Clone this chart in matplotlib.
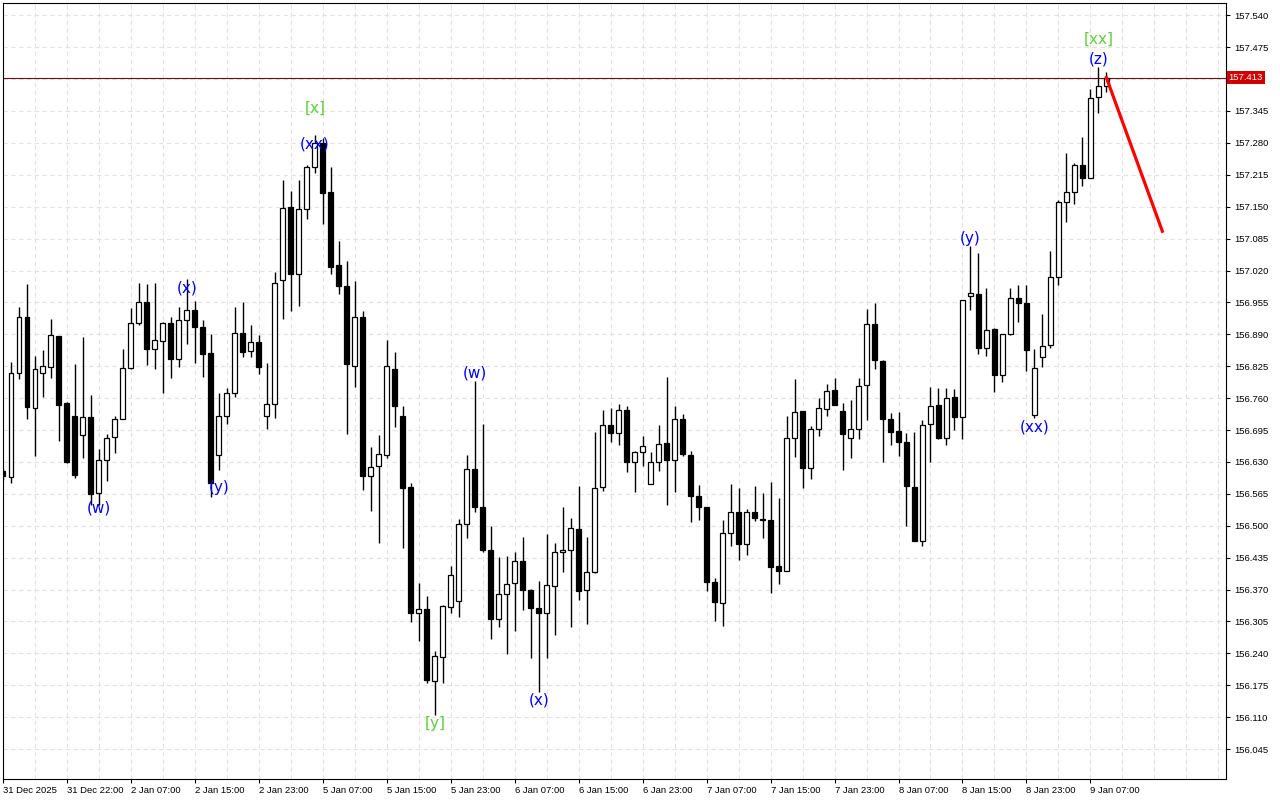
import matplotlib.pyplot as plt
import numpy as np

# hourly candles, 31 Dec 14:00 .. 9 Jan 10:00
opens = [156.611, 156.599, 156.811, 156.925, 156.740, 156.811, 156.823, 156.886, 156.750, 156.723,
         156.685, 156.721, 156.566, 156.634, 156.681, 156.717, 156.821, 156.913, 156.956, 156.860,
         156.876, 156.913, 156.840, 156.919, 156.939, 156.905, 156.852, 156.644, 156.723, 156.770,
         156.892, 156.856, 156.874, 156.723, 156.748, 157.000, 157.149, 157.013, 157.145, 157.231,
         157.280, 157.180, 157.031, 156.988, 156.825, 156.925, 156.601, 156.621, 156.644, 156.819,
         156.723, 156.579, 156.322, 156.330, 156.183, 156.232, 156.334, 156.346, 156.503, 156.615,
         156.538, 156.450, 156.310, 156.361, 156.383, 156.428, 156.369, 156.332, 156.322, 156.377,
         156.446, 156.450, 156.493, 156.369, 156.405, 156.579, 156.705, 156.689, 156.736, 156.630,
         156.650, 156.585, 156.630, 156.668, 156.634, 156.717, 156.644, 156.560, 156.538, 156.385,
         156.342, 156.485, 156.528, 156.463, 156.528, 156.513, 156.511, 156.418, 156.408, 156.679,
         156.734, 156.617, 156.697, 156.738, 156.776, 156.734, 156.679, 156.697, 156.787, 156.911,
         156.835, 156.717, 156.693, 156.670, 156.579, 156.469, 156.707, 156.746, 156.679, 156.762,
         156.721, 156.968, 156.972, 156.862, 156.901, 156.807, 156.890, 156.964, 156.954, 156.725,
         156.844, 156.868, 157.007, 157.159, 157.180, 157.235, 157.208, 157.373, 157.396]
highs = [156.617, 156.833, 156.945, 156.992, 156.846, 156.858, 156.921, 156.886, 156.752, 156.829,
         156.884, 156.766, 156.656, 156.687, 156.723, 156.860, 156.943, 156.994, 156.992, 156.994,
         156.915, 156.925, 156.945, 157.003, 156.958, 156.919, 156.890, 156.770, 156.780, 156.945,
         156.956, 156.909, 156.888, 156.831, 157.017, 157.204, 157.182, 157.204, 157.235, 157.296,
         157.290, 157.231, 157.080, 157.039, 156.998, 156.937, 156.660, 156.685, 156.878, 156.854,
         156.744, 156.587, 156.383, 156.357, 156.245, 156.338, 156.418, 156.513, 156.644, 156.795,
         156.707, 156.499, 156.436, 156.438, 156.446, 156.477, 156.371, 156.387, 156.483, 156.465,
         156.538, 156.516, 156.581, 156.477, 156.691, 156.736, 156.740, 156.748, 156.744, 156.652,
         156.683, 156.650, 156.705, 156.803, 156.744, 156.727, 156.652, 156.583, 156.538, 156.393,
         156.511, 156.585, 156.577, 156.534, 156.581, 156.566, 156.589, 156.556, 156.723, 156.799,
         156.734, 156.703, 156.760, 156.789, 156.801, 156.750, 156.756, 156.801, 156.941, 156.954,
         156.837, 156.729, 156.732, 156.689, 156.691, 156.715, 156.782, 156.780, 156.780, 156.778,
         156.960, 157.070, 157.055, 156.984, 156.903, 156.890, 156.984, 156.990, 156.990, 156.860,
         156.931, 157.060, 157.163, 157.259, 157.239, 157.292, 157.390, 157.434, 157.424]
lows = [156.593, 156.587, 156.799, 156.717, 156.642, 156.762, 156.801, 156.672, 156.628, 156.597,
        156.638, 156.542, 156.542, 156.591, 156.648, 156.717, 156.819, 156.909, 156.827, 156.819,
        156.770, 156.801, 156.823, 156.870, 156.831, 156.803, 156.558, 156.613, 156.707, 156.762,
        156.844, 156.844, 156.809, 156.697, 156.719, 156.921, 156.937, 156.947, 157.125, 157.219,
        157.115, 157.013, 156.972, 156.687, 156.782, 156.573, 156.530, 156.465, 156.638, 156.701,
        156.454, 156.304, 156.265, 156.179, 156.114, 156.179, 156.322, 156.314, 156.475, 156.528,
        156.446, 156.269, 156.293, 156.238, 156.285, 156.328, 156.230, 156.161, 156.230, 156.277,
        156.405, 156.293, 156.348, 156.300, 156.403, 156.571, 156.670, 156.664, 156.609, 156.568,
        156.621, 156.585, 156.611, 156.542, 156.568, 156.642, 156.507, 156.511, 156.367, 156.306,
        156.295, 156.458, 156.430, 156.440, 156.509, 156.475, 156.363, 156.381, 156.408, 156.640,
        156.577, 156.595, 156.683, 156.723, 156.746, 156.613, 156.638, 156.676, 156.715, 156.819,
        156.630, 156.664, 156.642, 156.499, 156.469, 156.458, 156.630, 156.676, 156.664, 156.695,
        156.676, 156.939, 156.850, 156.846, 156.772, 156.793, 156.888, 156.915, 156.815, 156.719,
        156.823, 156.862, 156.990, 157.119, 157.155, 157.192, 157.208, 157.341, 157.384]
closes = [156.601, 156.811, 156.925, 156.742, 156.819, 156.825, 156.888, 156.746, 156.630, 156.603,
          156.721, 156.564, 156.634, 156.679, 156.717, 156.821, 156.913, 156.956, 156.860, 156.878,
          156.913, 156.840, 156.919, 156.939, 156.905, 156.850, 156.587, 156.723, 156.770, 156.892,
          156.854, 156.874, 156.823, 156.748, 156.994, 157.147, 157.013, 157.145, 157.231, 157.280,
          157.178, 157.027, 156.988, 156.829, 156.925, 156.601, 156.619, 156.646, 156.825, 156.744,
          156.577, 156.322, 156.330, 156.185, 156.234, 156.336, 156.399, 156.503, 156.615, 156.538,
          156.450, 156.310, 156.361, 156.381, 156.428, 156.369, 156.332, 156.322, 156.379, 156.446,
          156.450, 156.495, 156.367, 156.405, 156.577, 156.705, 156.689, 156.736, 156.630, 156.650,
          156.662, 156.630, 156.666, 156.634, 156.717, 156.646, 156.560, 156.538, 156.385, 156.344,
          156.485, 156.528, 156.463, 156.528, 156.516, 156.511, 156.416, 156.408, 156.679, 156.732,
          156.617, 156.697, 156.740, 156.774, 156.746, 156.687, 156.697, 156.784, 156.911, 156.837,
          156.717, 156.691, 156.670, 156.581, 156.469, 156.705, 156.744, 156.679, 156.760, 156.721,
          156.960, 156.974, 156.862, 156.899, 156.807, 156.890, 156.964, 156.954, 156.858, 156.821,
          156.866, 157.007, 157.159, 157.180, 157.235, 157.208, 157.371, 157.396, 157.413]

time_labels = ['31 Dec 2025', '31 Dec 22:00', '2 Jan 07:00', '2 Jan 15:00', '2 Jan 23:00',
               '5 Jan 07:00', '5 Jan 15:00', '5 Jan 23:00', '6 Jan 07:00', '6 Jan 15:00',
               '6 Jan 23:00', '7 Jan 07:00', '7 Jan 15:00', '7 Jan 23:00', '8 Jan 07:00',
               '8 Jan 15:00', '8 Jan 23:00', '9 Jan 07:00']
price_ticks = np.round(156.045 + 0.065 * np.arange(24), 3)

# (text, candle index, price, colour)
wave_labels = [('(w)', 12, 156.536, 'blue'), ('(x)', 23, 156.984, 'blue'),
               ('(y)', 27, 156.577, 'blue'), ('(xx)', 39, 157.278, 'blue'),
               ('[x]', 39, 157.351, '#5ecf3a'), ('[y]', 54, 156.098, '#5ecf3a'),
               ('(w)', 59, 156.811, 'blue'), ('(x)', 67, 156.145, 'blue'),
               ('(y)', 121, 157.086, 'blue'), ('(xx)', 129, 156.701, 'blue'),
               ('(z)', 137, 157.451, 'blue'), ('[xx]', 137, 157.492, '#5ecf3a')]

current_price = 157.413
forecast_x = [138, 145]
forecast_y = [157.413, 157.100]

o = np.array(opens)
h = np.array(highs)
l = np.array(lows)
c = np.array(closes)
idx = np.arange(len(o))
up = c >= o

fig = plt.figure(figsize=(12.8, 8), dpi=100)
ax = fig.add_axes([3 / 1280, 21 / 800, 1223 / 1280, 776 / 800])

ax.vlines(idx, l, h, color='black', linewidth=1, zorder=2)
ax.bar(idx, np.maximum(np.abs(c - o), 0.0008), bottom=np.minimum(o, c), width=0.62,
       color=np.where(up, 'white', 'black'), edgecolor='black', linewidth=0.9, zorder=3)

ax.axhline(current_price, color='#6b1010', linewidth=0.8, zorder=1)
ax.plot(forecast_x, forecast_y, color='red', linewidth=2.3, zorder=4)

for txt, i, p, col in wave_labels:
    ax.text(i, p, txt, color=col, fontsize=11, ha='center', va='center', zorder=5)

ax.set_xlim(0.09, 152.96)
ax.set_ylim(155.984, 157.565)

ax.set_xticks(np.arange(0, 8 * len(time_labels), 8))
ax.set_xticklabels(time_labels, ha='left', fontsize=6.8, family='Liberation Sans')
ax.set_xticks(np.arange(0, 153, 4), minor=True)
ax.tick_params(axis='x', which='major', length=3, pad=2)
ax.tick_params(axis='x', which='minor', length=0)

# the price tag hides the tick label next to it
ax.yaxis.tick_right()
ax.set_yticks(price_ticks)
ax.set_yticklabels(['' if abs(v - current_price) < 0.02 else '%.3f' % v for v in price_ticks],
                   fontsize=6.8, family='Liberation Sans')
ax.tick_params(axis='y', length=3, pad=3)

ax.grid(True, which='both', color='#e2e2e2', linestyle=(0, (4, 3)), linewidth=0.8)
ax.set_axisbelow(True)
for s in ax.spines.values():
    s.set_linewidth(0.8)

ax.text(1.002, current_price, '%.3f' % current_price, transform=ax.get_yaxis_transform(),
        ha='left', va='center', fontsize=6.8, family='Liberation Sans', color='white',
        bbox=dict(boxstyle='square,pad=0.2', facecolor='#d00000', edgecolor='none'))

plt.savefig('out.png', dpi=100)
